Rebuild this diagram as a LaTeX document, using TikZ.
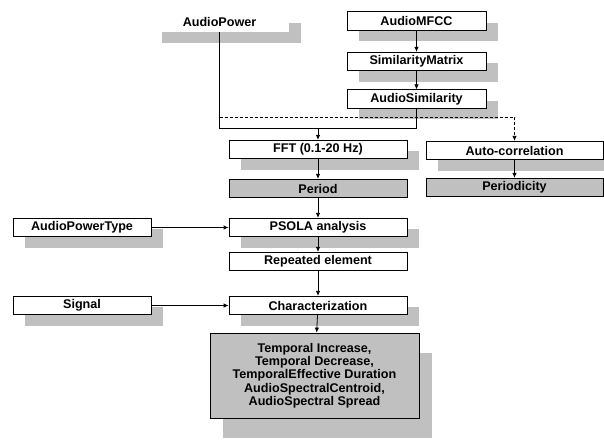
\documentclass[tikz,border=0pt]{standalone}
\usepackage{fontspec}
\setmainfont{Liberation Sans}
\usetikzlibrary{shadows}
\usetikzlibrary{arrows.meta}
\definecolor{shade}{RGB}{192,192,192}

\tikzset{
  blk/.style={draw, fill=white, line width=0.8pt, minimum width=178pt, minimum height=18.5pt,
    inner sep=0pt, font=\fontsize{12.6}{13.3}\selectfont\bfseries},
  shd/.style={drop shadow={shadow xshift=12pt, shadow yshift=-11pt, fill=shade, opacity=1}},
  arr/.style={-{Latex[length=5pt,width=4.5pt]}, line width=0.8pt},
}

\begin{document}
\begin{tikzpicture}[x=1pt, y=-1pt, line width=0.8pt]
\useasboundingbox (0,0) rectangle (604,441);
\node[blk, shd, draw=none, minimum width=139pt, minimum height=20pt] (pow) at (219.5,22) {AudioPower};
\node[blk, shd, minimum width=139pt] (mfcc) at (416.5,21) {AudioMFCC};
\node[blk, shd, minimum width=139pt] (smat) at (416.5,61.5) {SimilarityMatrix};
\node[blk, shd, minimum width=139pt] (asim) at (416.5,99) {AudioSimilarity};
\node[blk, shd] (fft) at (318,149.5) {FFT (0.1-20 Hz)};
\node[blk, shd, minimum width=177pt] (acorr) at (514.5,150.5) {Auto-correlation};
\node[blk, fill=shade] (period) at (318,188.5) {Period};
\node[blk, fill=shade, minimum width=177pt] (pdcity) at (514.5,187.5) {Periodicity};
\node[blk, shd, minimum width=138pt] (ptype) at (82,227.5) {AudioPowerType};
\node[blk, shd] (psola) at (318,227.5) {PSOLA analysis};
\node[blk] (rep) at (318,261.5) {Repeated element};
\node[blk, shd, minimum width=138pt] (sig) at (82,305.5) {Signal};
\node[blk, shd] (char) at (318,305.5) {Characterization};
\node[blk, fill=shade, drop shadow={shadow xshift=13pt, shadow yshift=-20pt, fill=shade, opacity=1},
  minimum width=209pt, minimum height=85pt, align=center] (desc) at (314.5,375.5)
  {Temporal Increase,\\Temporal Decrease,\\TemporalEffective Duration\\AudioSpectralCentroid,\\AudioSpectral Spread};

\coordinate (merge) at (318,128);
\coordinate (dsplit) at (219.5,117);

\draw (pow.south) |- (merge);
\draw (asim.south) |- (merge);
\draw[arr] (merge) -- (fft);
\draw[arr, dash pattern=on 3pt off 2pt] (dsplit) -| (acorr);
\draw[arr] (mfcc) -- (smat);
\draw[arr] (smat) -- (asim);
\draw[arr] (fft) -- (period);
\draw[arr] (acorr) -- (pdcity);
\draw[arr] (period) -- (psola);
\draw[arr] (ptype) -- (psola);
\draw[arr] (psola) -- (rep);
\draw[arr] (rep) -- (char);
\draw[arr] (sig) -- (char);
\draw[arr] (char) -- (desc);
\end{tikzpicture}
\end{document}
